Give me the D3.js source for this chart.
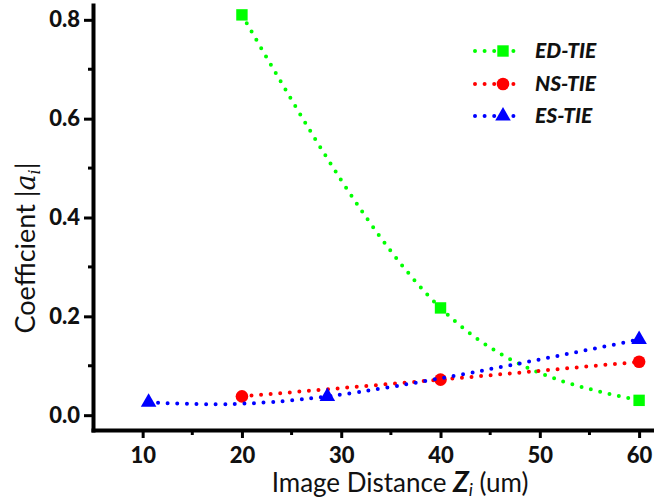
<!DOCTYPE html>
<html>
<head>
<meta charset="utf-8">
<script src="https://cdn.jsdelivr.net/npm/d3@7"></script>
<style>
  body { margin: 0; background: #fff; }
  text { font-family: Lato, "Open Sans", sans-serif; }
</style>
</head>
<body>
<div id="chart"></div>
<script>
// data
const seriesNames = ["ED-TIE", "NS-TIE", "ES-TIE"];
const edZ = [20, 40, 60];
const edVal = [0.81, 0.217, 0.030];
const nsZ = [20, 40, 60];
const nsVal = [0.038, 0.072, 0.108];
const esZ = [10.6, 28.6, 60];
const esVal = [0.026, 0.038, 0.153];

const xTicks = [10, 20, 30, 40, 50, 60];
const xMinor = [15, 25, 35, 45, 55];
const yTicks = [0.0, 0.2, 0.4, 0.6, 0.8];
const yMinor = [0.1, 0.3, 0.5, 0.7];

const W = 654, H = 501;
const colors = ["#00ff00", "#ff0000", "#0000ff"];
const shapes = [d3.symbolSquare, d3.symbolCircle, d3.symbolTriangle];
const symSize = [130, 125, 105];

const svg = d3.select("#chart").append("svg")
  .attr("width", W).attr("height", H);

const x = d3.scaleLinear().domain([5, 61.5]).range([93, 654]);
const y = d3.scaleLinear().domain([-0.03, 0.83]).range([430, 5]);

// axes
const xAxis = svg.append("g").attr("transform", "translate(0,430)")
  .call(d3.axisBottom(x).tickValues(xTicks).tickSize(8).tickSizeOuter(0).tickPadding(9));
xAxis.append("g").selectAll("line").data(xMinor).enter().append("line")
  .attr("x1", d => x(d)).attr("x2", d => x(d))
  .attr("y1", 0).attr("y2", 5)
  .attr("stroke", "#000").attr("stroke-width", 3);

const yAxis = svg.append("g").attr("transform", "translate(93,0)")
  .call(d3.axisLeft(y).tickValues(yTicks).tickSize(9).tickSizeOuter(0).tickPadding(4)
    .tickFormat(d3.format(".1f")));
yAxis.append("g").selectAll("line").data(yMinor).enter().append("line")
  .attr("y1", d => y(d)).attr("y2", d => y(d))
  .attr("x1", 0).attr("x2", -5)
  .attr("stroke", "#000").attr("stroke-width", 3);

[xAxis, yAxis].forEach(a => {
  a.select(".domain").attr("stroke-width", 4).attr("stroke-linecap", "square");
  a.selectAll(".tick line").attr("stroke-width", 3);
  a.selectAll(".tick text")
    .style("font-family", "Lato, sans-serif")
    .style("font-size", "22px")
    .style("font-weight", "900")
    .attr("fill", "#111");
});

// axis titles
const xt = svg.append("text")
  .attr("x", 400).attr("y", 492)
  .attr("text-anchor", "middle")
  .style("font-size", "26px").attr("fill", "#111");
xt.append("tspan").text("Image Distance ");
xt.append("tspan").text("Z").style("font-weight", "bold").style("font-style", "italic")
  .style("font-size", "28px");
xt.append("tspan").text("i").style("font-style", "italic").style("font-size", "18px")
  .attr("dy", 4);
xt.append("tspan").text(" (um)").attr("dy", -4);

const yt = svg.append("text")
  .attr("transform", "translate(35,248) rotate(-90)")
  .attr("text-anchor", "middle")
  .style("font-size", "27px").attr("fill", "#111");
yt.append("tspan").text("Coefficient |");
yt.append("tspan").text("a").style("font-family", "'DejaVu Serif', serif")
  .style("font-style", "italic");
yt.append("tspan").text("i").style("font-family", "'DejaVu Serif', serif")
  .style("font-style", "italic").style("font-size", "16px").attr("dy", 5);
yt.append("tspan").text("|").attr("dy", -5);

// series
const series = [
  { z: edZ, v: edVal },
  { z: nsZ, v: nsVal },
  { z: esZ, v: esVal }
];

const line = d3.line()
  .x(d => x(d[0])).y(d => y(d[1]))
  .curve(d3.curveNatural);

series.forEach((s, i) => {
  const pts = s.z.map((z, j) => [z, s.v[j]]);
  svg.append("g").selectAll("path.sym").data(pts).enter().append("path")
    .attr("class", "sym")
    .attr("transform", d => `translate(${x(d[0])},${y(d[1])})`)
    .attr("d", d3.symbol().type(shapes[i]).size(symSize[i]))
    .attr("fill", colors[i]);
  svg.append("path").datum(pts)
    .attr("d", line)
    .attr("fill", "none")
    .attr("stroke", colors[i])
    .attr("stroke-width", 4)
    .attr("stroke-linecap", "round")
    .attr("stroke-dasharray", "0 9.6");
});

// legend
const legY = [51, 84, 116];
const lg = svg.append("g");
seriesNames.forEach((name, i) => {
  const g = lg.append("g").attr("transform", `translate(0,${legY[i]})`);
  g.append("line")
    .attr("x1", 475).attr("x2", 523).attr("y1", 0).attr("y2", 0)
    .attr("stroke", colors[i]).attr("stroke-width", 4)
    .attr("stroke-linecap", "round").attr("stroke-dasharray", "0 9.6");
  g.append("path")
    .attr("transform", "translate(503,0)")
    .attr("d", d3.symbol().type(shapes[i]).size(symSize[i]))
    .attr("fill", colors[i]);
  g.append("text")
    .attr("x", 535).attr("y", 7)
    .style("font-size", "21px").style("font-weight", "900").style("font-style", "italic")
    .attr("fill", "#111")
    .text(name);
});
</script>
</body>
</html>
